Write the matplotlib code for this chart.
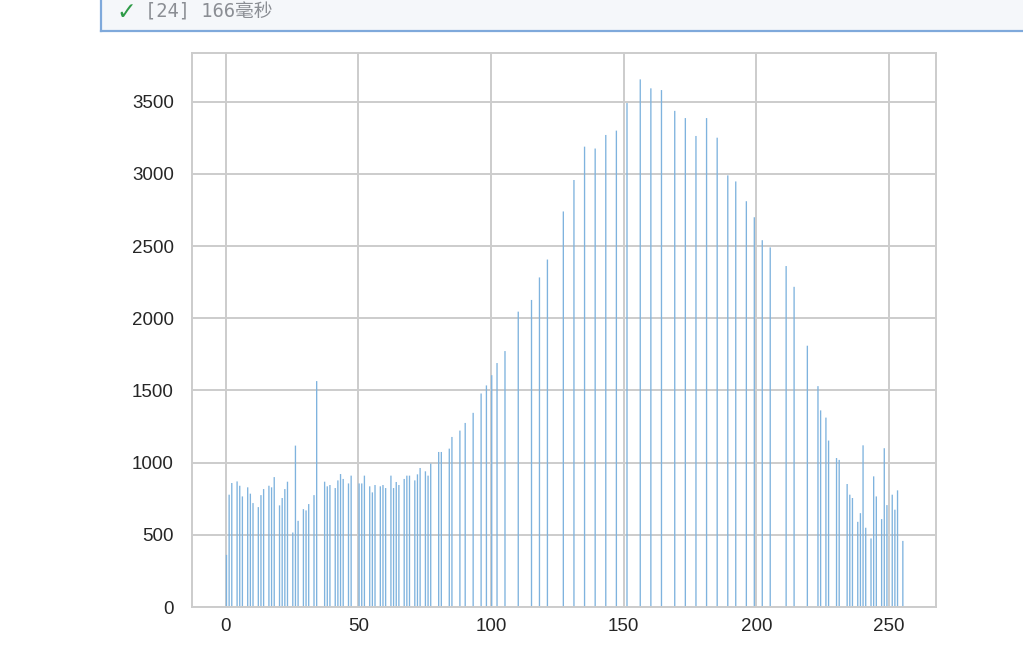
import matplotlib
matplotlib.use('Agg')
import matplotlib.pyplot as plt
import numpy as np

# pixel value -> count (empty levels are left out)
levels = [0, 1, 2, 4, 5, 6, 8, 9, 10, 12, 13, 14, 16, 17, 18, 20, 21, 22, 23, 25,
          26, 27, 29, 30, 31, 33, 34, 37, 38, 39, 41, 42, 43, 44, 46, 47, 50, 51, 52, 54,
          55, 56, 58, 59, 60, 62, 63, 64, 65, 67, 68, 69, 71, 72, 73, 75, 76, 77, 80, 81,
          84, 85, 88, 90, 93, 96, 98, 100, 102, 105, 110, 115, 118, 121, 127, 131, 135, 139, 143, 147,
          151, 156, 160, 164, 169, 173, 177, 181, 185, 189, 192, 196, 199, 202, 205, 211, 214, 219, 223, 224,
          226, 227, 230, 231, 234, 235, 236, 238, 239, 240, 241, 243, 244, 245, 247, 248, 249, 251, 252, 253,
          255]
counts = [361, 778, 859, 870, 840, 766, 829, 785, 720, 692, 775, 817, 840, 829, 900, 704, 755, 817, 868, 516,
          1118, 597, 678, 669, 713, 775, 1565, 868, 836, 845, 824, 877, 921, 887, 856, 910, 856, 856, 910, 836,
          794, 845, 836, 845, 824, 910, 824, 866, 845, 887, 910, 910, 877, 919, 963, 940, 910, 993, 1074, 1074,
          1097, 1178, 1222, 1275, 1345, 1479, 1535, 1606, 1690, 1773, 2046, 2127, 2283, 2407, 2740, 2958, 3189, 3176, 3270, 3300,
          3491, 3655, 3593, 3581, 3437, 3387, 3263, 3387, 3251, 2990, 2948, 2811, 2700, 2541, 2491, 2362, 2218, 1810, 1530, 1362,
          1312, 1153, 1032, 1019, 852, 778, 755, 590, 650, 1120, 549, 475, 905, 766, 609, 1100, 706, 778, 674, 808,
          458]

xticks = [0, 50, 100, 150, 200, 250]
yticks = [0, 500, 1000, 1500, 2000, 2500, 3000, 3500]

plt.rcParams['font.family'] = ['Liberation Sans', 'DejaVu Sans']

fig = plt.figure(figsize=(10.23, 6.71), dpi=100)
fig.patch.set_facecolor('white')

# notebook cell status bar at the top
hdr = fig.add_axes([101/1023, 1 - 31/671, 1.0, 0.1])
hdr.set_facecolor('#f5f7fa')
hdr.set_xticks([])
hdr.set_yticks([])
for s in ['top', 'right']:
    hdr.spines[s].set_visible(False)
for s in ['left', 'bottom']:
    hdr.spines[s].set_color('#7fa9db')
    hdr.spines[s].set_linewidth(1.6)
fig.text(116/1023, 1 - 12/671, '✓', color='#2e9b47', fontsize=17, fontweight='bold',
         family='DejaVu Sans', va='center', ha='left')
fig.text(145/1023, 1 - 12/671, '[24] 166毫秒', color='#8b8e94', fontsize=13.5,
         family=['DejaVu Sans Mono', 'Noto Sans CJK SC'], va='center', ha='left')

ax = fig.add_axes([192/1023, 64/671, 744/1023, 554/671])
ax.bar(levels, counts, width=0.5, align='edge', color='#7fb3de',
       linewidth=0, snap=False)
ax.set_xlim(-12.75, 267.75)
ax.set_ylim(0, max(counts) * 1.05)

ax.set_axisbelow(True)
ax.grid(True, color='#cccccc', linewidth=1.4)
for s in ax.spines.values():
    s.set_color('#cccccc')
    s.set_linewidth(1.4)
ax.set_xticks(xticks)
ax.set_yticks(yticks)
ax.tick_params(axis='both', length=0, labelsize=13.5, labelcolor='#262626')
ax.tick_params(axis='y', pad=13)
ax.tick_params(axis='x', pad=8)

fig.savefig('out.png', dpi=100, facecolor='white')
